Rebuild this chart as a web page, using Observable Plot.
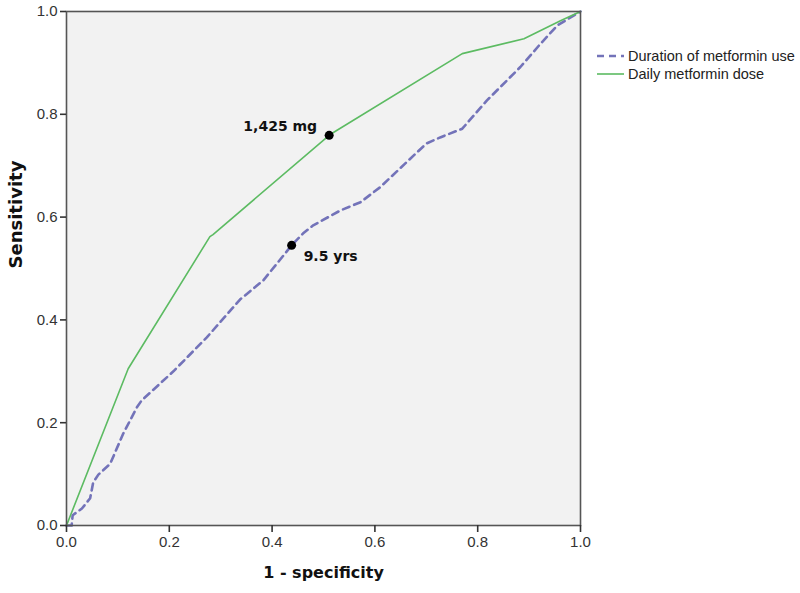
<!DOCTYPE html>
<html><head><meta charset="utf-8">
<script src="https://cdn.jsdelivr.net/npm/d3@7"></script>
<script src="https://cdn.jsdelivr.net/npm/@observablehq/plot@0.6"></script>
<style>
body{margin:0;background:#fff}
#wrap{position:relative;width:800px;height:593px}
#legend{position:absolute;left:597px;top:47px;font:14.5px "Liberation Sans",Arial,sans-serif;color:#222}
.row{display:flex;align-items:center;height:18px;white-space:nowrap}
.row svg{margin-right:4px}
</style></head><body>
<div id="wrap"><div id="chart"></div><div id="legend"></div></div>
<script>
// Data
const durX = [0, 0.010, 0.012, 0.030, 0.046, 0.052, 0.062, 0.085, 0.110, 0.137, 0.146, 0.208, 0.273, 0.338, 0.383, 0.438, 0.460, 0.480, 0.533, 0.572, 0.610, 0.700, 0.727, 0.770, 0.818, 0.883, 0.922, 0.955, 1.0];
const durY = [0, 0.000, 0.020, 0.033, 0.053, 0.084, 0.099, 0.120, 0.178, 0.230, 0.243, 0.300, 0.366, 0.440, 0.477, 0.545, 0.568, 0.584, 0.613, 0.629, 0.658, 0.743, 0.755, 0.772, 0.827, 0.892, 0.937, 0.973, 1.0];
const doseX = [0, 0.120, 0.279, 0.285, 0.511, 0.520, 0.770, 0.890, 0.961, 1.0];
const doseY = [0, 0.305, 0.562, 0.566, 0.759, 0.765, 0.918, 0.947, 0.982, 1.0];
const seriesNames = ["Duration of metformin use", "Daily metformin dose"];
const seriesColors = ["#7373b9", "#5cbb62"];
const cutX = [0.511, 0.438];
const cutY = [0.759, 0.545];
const cutLabels = ["1,425 mg", "9.5 yrs"];
const ticks = [0, 0.2, 0.4, 0.6, 0.8, 1.0];
const xTitle = "1 - specificity";
const yTitle = "Sensitivity";

const dur = durX.map((x, i) => ({x, y: durY[i]}));
const dose = doseX.map((x, i) => ({x, y: doseY[i]}));
const cuts = cutX.map((x, i) => ({x, y: cutY[i], label: cutLabels[i]}));
const fmt = d3.format(".1f");
const boldFont = "'DejaVu Sans', sans-serif";

const chart = Plot.plot({
  width: 800, height: 593,
  marginLeft: 66, marginRight: 220, marginTop: 11, marginBottom: 68,
  style: {fontFamily: "'Liberation Sans', Arial, sans-serif", fontSize: "15px", background: "#fff", overflow: "visible"},
  x: {domain: [0, 1]},
  y: {domain: [0, 1]},
  marks: [
    Plot.frame({fill: "#f2f2f2"}),
    Plot.line(dur, {x: "x", y: "y", stroke: seriesColors[0], strokeWidth: 2.6, strokeDasharray: "7,5"}),
    Plot.line(dose, {x: "x", y: "y", stroke: seriesColors[1], strokeWidth: 1.6}),
    Plot.frame({stroke: "#555", strokeWidth: 1.6}),
    Plot.axisX({ticks, tickFormat: fmt, tickSize: 7, tickPadding: 4, label: null, stroke: "#333", strokeWidth: 1.6, fill: "#333"}),
    Plot.axisY({ticks, tickFormat: fmt, tickSize: 6, tickPadding: 3, label: null, stroke: "#333", strokeWidth: 1.6, fill: "#333"}),
    Plot.dot(cuts, {x: "x", y: "y", r: 4.5, fill: "#000"}),
    Plot.text([cuts[0]], {x: "x", y: "y", text: "label", textAnchor: "end", dx: -12, dy: -9, fontFamily: boldFont, fontWeight: "bold", fontSize: 14, fill: "#111"}),
    Plot.text([cuts[1]], {x: "x", y: "y", text: "label", textAnchor: "start", dx: 12, dy: 11, fontFamily: boldFont, fontWeight: "bold", fontSize: 14, fill: "#111"}),
    Plot.text([xTitle], {text: d => d, frameAnchor: "bottom", dy: 52, fontFamily: boldFont, fontWeight: "bold", fontSize: 16, fill: "#111"}),
    Plot.text([yTitle], {text: d => d, frameAnchor: "left", dx: -50, rotate: -90, fontFamily: boldFont, fontWeight: "bold", fontSize: 18, fill: "#111"})
  ]
});
document.getElementById("chart").append(chart);

const legend = document.getElementById("legend");
seriesNames.forEach((name, i) => {
  const row = document.createElement("div");
  row.className = "row";
  const dash = i === 0 ? 'stroke-dasharray="7,5" stroke-width="2.6"' : 'stroke-width="1.6"';
  row.innerHTML = `<svg width="27" height="10"><line x1="0" x2="27" y1="5" y2="5" stroke="${seriesColors[i]}" ${dash}/></svg><span>${name}</span>`;
  legend.append(row);
});
</script>
</body></html>
